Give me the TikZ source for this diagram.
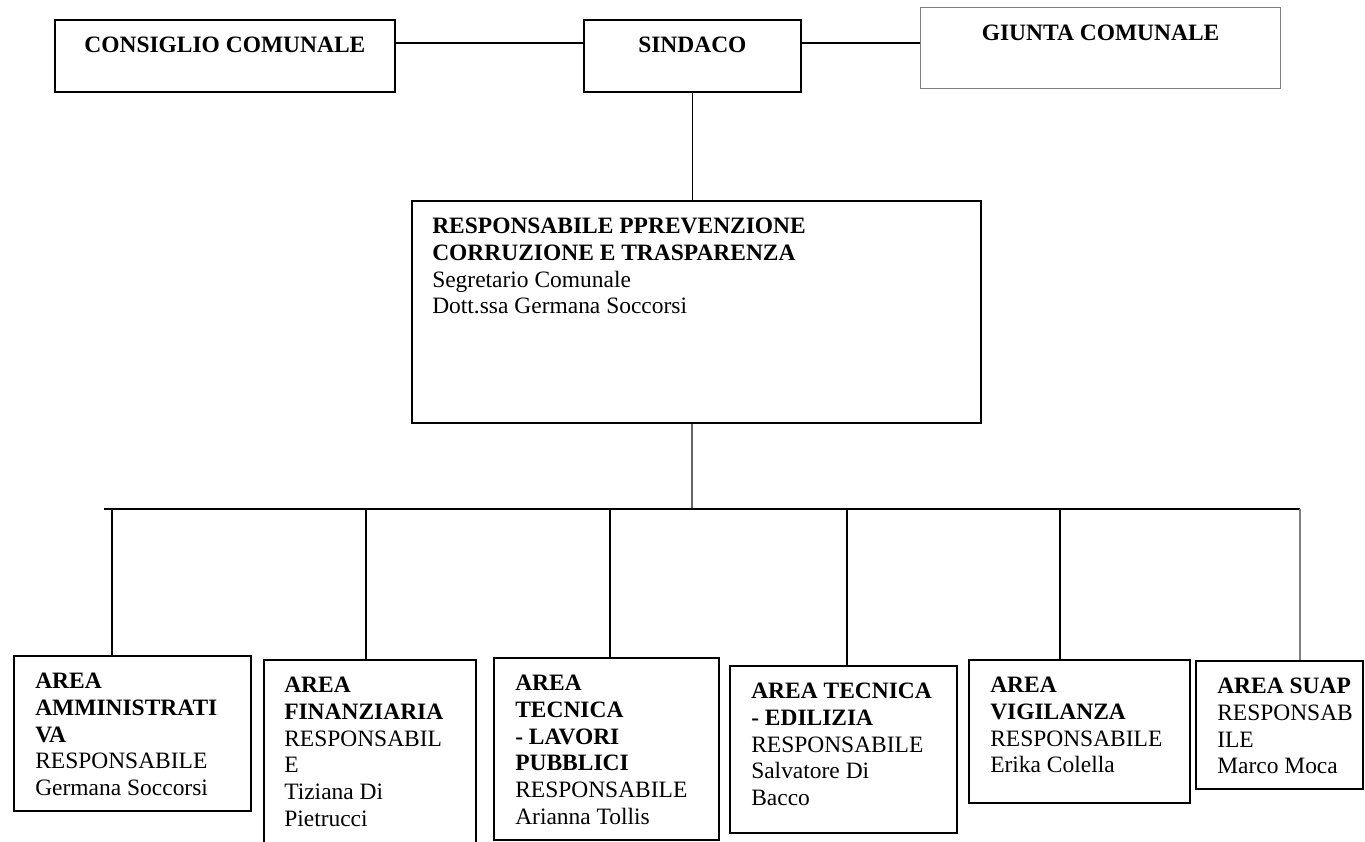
\documentclass[tikz,border=0pt]{standalone}
\usepackage{fontspec}
\setmainfont{Liberation Serif}
\usetikzlibrary{positioning}
\newdimen\px
\px=0.75pt

\begin{document}
\begin{tikzpicture}[x=0.75pt,y=-0.75pt,
  orgbox/.style={draw,line width=1.3pt,inner sep=0pt,anchor=north west},
  orgtext/.style={inner sep=0pt,align=left,font=\fontsize{17.6}{20}\selectfont},
  link/.style={line width=1pt}]
\useasboundingbox (0,0) rectangle (1365,842);

% top row
\node[orgbox,minimum width=340\px,minimum height=72\px] (cons) at (54,19) {};
\node[orgbox,minimum width=217\px,minimum height=72\px] (sind) at (583,19) {};
\node[orgbox,draw=gray,line width=0.9pt,minimum width=360\px,minimum height=81\px] (giunta) at (920,7) {};
\node[orgtext,below=18\px of cons.north] (constext) {\textbf{CONSIGLIO COMUNALE}};
\node[orgtext,below=18\px of sind.north] (sindtext) {\textbf{SINDACO}};
\node[orgtext,below=18\px of giunta.north] (giuntatext) {\textbf{GIUNTA COMUNALE}};

% responsabile
\node[orgbox,minimum width=569\px,minimum height=222\px] (rpc) at (411,200) {};
\node[orgtext,below right=18\px and 21\px of rpc.north west] (rpctext)
  {\textbf{RESPONSABILE PPREVENZIONE}\\\textbf{CORRUZIONE E TRASPARENZA}\\Segretario Comunale\\Dott.ssa Germana Soccorsi};

% aree
\node[orgbox,minimum width=237\px,minimum height=155\px] (amm) at (13,655) {};
\node[orgbox,minimum width=212\px,minimum height=192\px] (fin) at (263,659) {};
\node[orgbox,minimum width=225\px,minimum height=182\px] (lav) at (493,657) {};
\node[orgbox,minimum width=227\px,minimum height=167\px] (edi) at (729,665) {};
\node[orgbox,minimum width=221\px,minimum height=143\px] (vig) at (968,659) {};
\node[orgbox,minimum width=167\px,minimum height=128\px] (suap) at (1195,660) {};

\node[orgtext,below right=18\px and 22\px of amm.north west] (ammtext)
  {\textbf{AREA}\\\textbf{AMMINISTRATI}\\\textbf{VA}\\RESPONSABILE\\Germana Soccorsi};
\node[orgtext,below right=18\px and 21\px of fin.north west] (fintext)
  {\textbf{AREA}\\\textbf{FINANZIARIA}\\RESPONSABIL\\E\\Tiziana Di\\Pietrucci};
\node[orgtext,below right=18\px and 22\px of lav.north west] (lavtext)
  {\textbf{AREA}\\\textbf{TECNICA}\\\textbf{- LAVORI}\\\textbf{PUBBLICI}\\RESPONSABILE\\Arianna Tollis};
\node[orgtext,below right=18\px and 22\px of edi.north west] (editext)
  {\textbf{AREA TECNICA}\\\textbf{- EDILIZIA}\\RESPONSABILE\\Salvatore Di\\Bacco};
\node[orgtext,below right=18\px and 22\px of vig.north west] (vigtext)
  {\textbf{AREA}\\\textbf{VIGILANZA}\\RESPONSABILE\\Erika Colella};
\node[orgtext,below right=18\px and 22\px of suap.north west] (suaptext)
  {\textbf{AREA SUAP}\\RESPONSAB\\ILE\\Marco Moca};

% connectors
\coordinate (consline) at ([yshift=-24\px]cons.north east);
\coordinate (sindline) at ([yshift=-24\px]sind.north east);
\draw[link] (consline) -- (consline -| sind.west);
\draw[link] (sindline) -- (sindline -| giunta.west);
\draw[link] (sind.south) -- (sind.south |- rpc.north);

\coordinate (busL) at (104,509);
\coordinate (busR) at (1300,509);
\draw[link,draw=gray!80!black,line width=1.5pt] (sind.south |- rpc.south) -- (sind.south |- busL);
\draw[link] (busL) -- (busR);
\foreach \xb/\area in {112/amm,366/fin,610/lav,847/edi,1060/vig}
  \draw[link] (\xb,509) -- (\xb,509 |- \area.north);
\draw[link,draw=gray,line width=1.6pt] (busR) -- (busR |- suap.north);
\end{tikzpicture}
\end{document}
